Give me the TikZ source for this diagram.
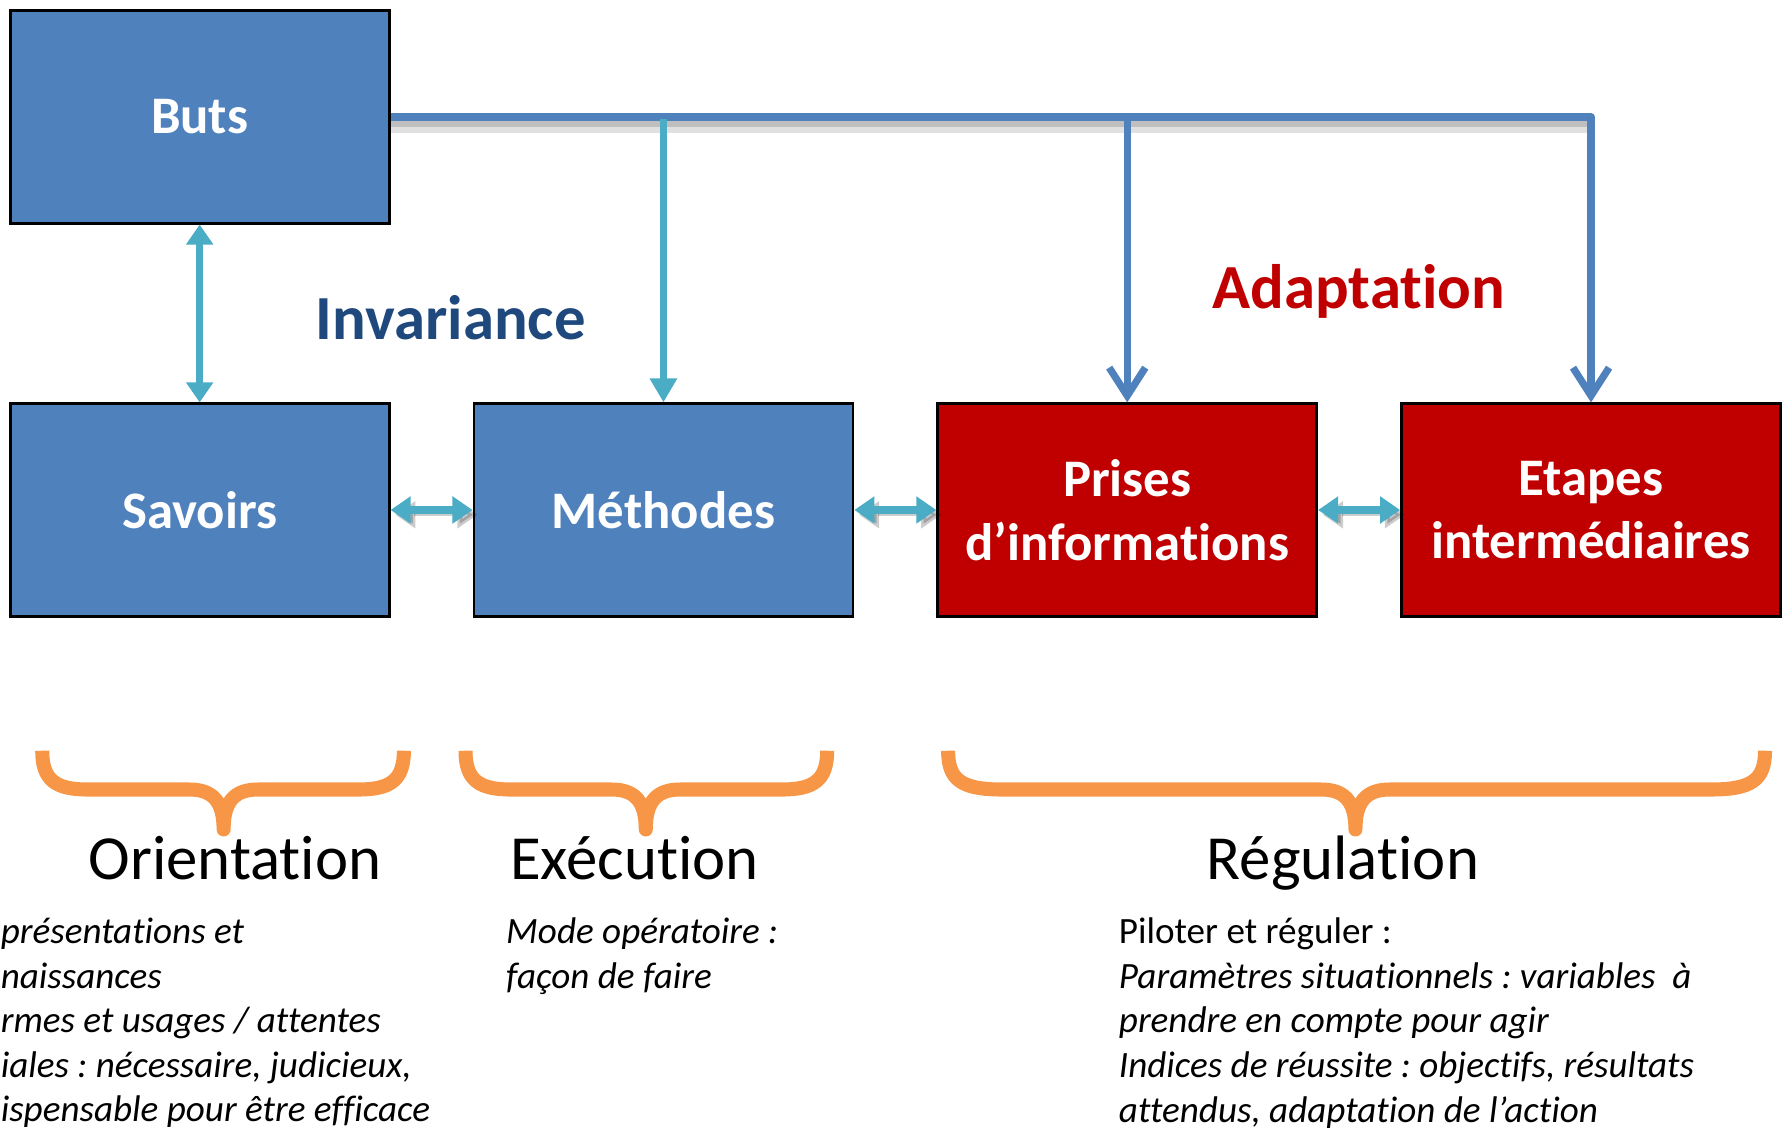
\documentclass[tikz,border=0pt]{standalone}
\usepackage{fontspec}
\setmainfont[Ligatures=NoCommon]{Carlito}
\usetikzlibrary{arrows.meta}
\definecolor{boxblue}{HTML}{4F81BD}
\definecolor{boxred}{HTML}{C00000}
\definecolor{cyanarrow}{HTML}{4BACC6}
\definecolor{darkblue}{HTML}{1F497D}
\definecolor{braceorange}{HTML}{F79646}
\frenchspacing
\newcommand\mybrace[4]{%
  \draw[brace] (#1,658) .. controls (#1,684) and (#1+12,692) .. (#1+#4,692)
    -- (#3-30,692) .. controls (#3-10,692) and (#3,702) .. (#3,727)
    .. controls (#3,702) and (#3+10,692) .. (#3+30,692)
    -- (#2-#4,692) .. controls (#2-12,692) and (#2,684) .. (#2,658);}
\tikzset{
  box/.style={draw=black, line width=0.7pt, minimum width=3.32cm, minimum height=1.86cm,
    inner sep=0pt, text=white, font=\fontsize{13.15}{15.9}\selectfont\bfseries, align=center},
  bluebox/.style={box, fill=boxblue},
  redbox/.style={box, fill=boxred},
  bluearrow/.style={draw=boxblue, line width=1.8pt, line join=round,
    -{Straight Barb[length=7pt,width=9pt,line width=1.8pt]}},
  cyanline/.style={draw=cyanarrow, line width=1.8pt, -{Triangle[length=6pt,width=6.5pt]}},
  cyandouble/.style={draw=cyanarrow, line width=1.8pt,
    {Triangle[length=5pt,width=6.5pt]}-{Triangle[length=5pt,width=6.5pt]}},
  shadowed/.style={preaction={draw=black, opacity=0.2, transform canvas={shift={(1.2pt,-1.2pt)}}}},
  brace/.style={draw=braceorange, line width=3.5pt, line join=round, line cap=butt},
  biglabel/.style={font=\fontsize{15.65}{18}\selectfont, inner sep=0pt},
  body/.style={font=\fontsize{9.25}{11.1}\selectfont, align=left, inner sep=0pt},
}
\begin{document}
\begin{tikzpicture}[x=0.01cm, y=-0.01cm]
\useasboundingbox (0,0) rectangle (1568,989);
\clip (0,0) rectangle (1568,989);
% boxes
\node[bluebox] (buts) at (175,102.5) {Buts};
\node[bluebox] (savoirs) at (175,447) {Savoirs};
\node[bluebox] (methodes) at (581.5,447) {Méthodes};
\node[redbox] (prises) at (988,447) {Prises\\d’informations};
\node[redbox] (etapes) at (1394.5,447) {Etapes\\intermédiaires};
% junctions on the top line
\coordinate (jM) at (581.5,104);
\coordinate (jP) at (988,102.5);
\coordinate (jE) at (1394.5,102.5);
% soft shadow of the top line
\draw[black, opacity=0.12, line width=3pt] ([yshift=-2.4pt]buts.east) -- ([yshift=-2.4pt]jE);
\draw[black, opacity=0.15, line width=1.6pt] ([yshift=-1.8pt]buts.east) -- ([yshift=-1.8pt]jE);
% blue connectors
\draw[bluearrow] (buts.east) -- (jE) -- (etapes.north);
\draw[bluearrow] (jP) -- (prises.north);
% cyan connectors
\draw[cyanline] (jM) -- (methodes.north);
\draw[cyandouble] (buts.south) -- (savoirs.north);
\draw[cyandouble, shadowed] (savoirs.east) -- (methodes.west);
\draw[cyandouble, shadowed] (methodes.east) -- (prises.west);
\draw[cyandouble, shadowed] (prises.east) -- (etapes.west);
% labels
\node[biglabel, font=\fontsize{15.65}{18}\selectfont\bfseries, text=darkblue, anchor=base] (inv) at (395,298) {Invariance};
\node[biglabel, font=\fontsize{15.65}{18}\selectfont\bfseries, text=boxred, anchor=base] (adapt) at (1191,270) {Adaptation};
% braces
\mybrace{37}{354}{196}{40}
\mybrace{408}{725}{566}{40}
\mybrace{831}{1547}{1188}{48}
\node[biglabel, anchor=base] (orient) at (206,771) {Orientation};
\node[biglabel, anchor=base] (exec) at (556,771) {Exécution};
\node[biglabel, anchor=base] (regul) at (1177,771) {Régulation};
% body texts
\node[body, anchor=north west, font=\fontsize{9.25}{11.1}\selectfont\itshape] (ortext) at (0,804)
  {présentations et\\naissances\\rmes et usages / attentes\\iales : nécessaire, judicieux,\\ispensable pour être efficace};
\node[body, anchor=north west, font=\fontsize{9.25}{11.1}\selectfont\itshape] (extext) at (443,804)
  {Mode opératoire :\\façon de faire};
\node[body, anchor=north west] (retext) at (980,804)
  {Piloter et réguler :\\\textit{Paramètres situationnels : variables\ \ à}\\\textit{prendre en compte pour agir}\\\textit{Indices de réussite : objectifs, résultats}\\\textit{attendus, adaptation de l’action}};
\end{tikzpicture}
\end{document}
